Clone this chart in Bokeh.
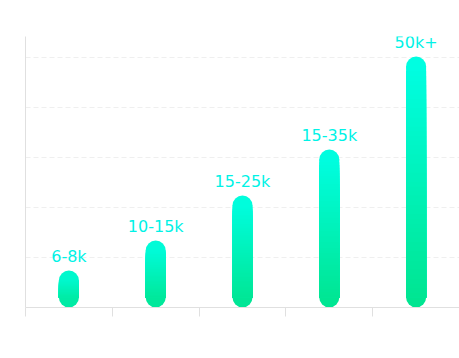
from bokeh.plotting import figure
from bokeh.models import ColumnDataSource, FixedTicker, Range1d
from bokeh.core.properties import value
from bokeh.embed import file_html
from bokeh.resources import INLINE

categories = ["6-8k", "10-15k", "15-25k", "15-35k", "50k+"]
values = [7.4, 13.4, 22.4, 31.6, 50.2]
grid_ticks = [10, 20, 30, 40, 50]

TOP = (0x00, 0xFF, 0xE4)
BOTTOM = (0x00, 0xE4, 0x8E)

W, H = 459, 342
BL, BT, BR, BB = 25, 36, 0, 35
YMAX = 54.2
frame_w = W - BL - BR
frame_h = H - BT - BB
px_x = len(categories) / frame_w
px_y = YMAX / frame_h
bar_px = 20
half_w = bar_px / 2 * px_x
r = bar_px / 2 * px_y


def mix(t):
    c = [round(BOTTOM[i] + (TOP[i] - BOTTOM[i]) * t) for i in range(3)]
    return "#%02x%02x%02x" % tuple(c)


p = figure(width=W, height=H, output_backend="svg", toolbar_location=None,
           x_range=Range1d(0, len(categories)), y_range=Range1d(0, YMAX),
           min_border_left=BL, min_border_top=BT, min_border_right=BR,
           min_border_bottom=BB)
p.outline_line_color = None
p.background_fill_color = "white"

# gradient bars via stacked slices
N = 50
sl_l, sl_r, sl_b, sl_t, sl_c = [], [], [], [], []
cx, cy, cc = [], [], []
for i, v in enumerate(values):
    c = i + 0.5
    y0, y1 = r, v - r
    cx += [c, c]
    cy += [y1, y0]
    cc += [mix(y1 / v), mix(y0 / v)]
    for k in range(N, 0, -1):
        yt = y0 + (y1 - y0) * k / N
        sl_l.append(c - half_w)
        sl_r.append(c + half_w)
        sl_b.append(y0)
        sl_t.append(yt)
        sl_c.append(mix(yt / v))

p.scatter(x=cx, y=cy, size=bar_px, color=cc, line_color=None)
p.quad(left=sl_l, right=sl_r, bottom=sl_b, top=sl_t, fill_color=sl_c, line_color=None)

lab = ColumnDataSource(dict(x=[i + 0.5 for i in range(len(categories))], y=values, t=categories))
p.text(x="x", y="y", text="t", source=lab, y_offset=-14, text_align="center",
       text_baseline="alphabetic", text_color="#00F2E6",
       text_font=value("DejaVu Sans"), text_font_size="16px")

p.xgrid.visible = False
p.ygrid.ticker = FixedTicker(ticks=grid_ticks)
p.ygrid.grid_line_color = "#efefef"
p.ygrid.grid_line_dash = "5 3"

p.xaxis.ticker = FixedTicker(ticks=list(range(len(categories) + 1)))
p.xaxis.axis_line_color = "#e0e0e0"
p.xaxis.major_tick_line_color = "#e0e0e0"
p.xaxis.major_tick_out = 9
p.xaxis.major_tick_in = 0
p.xaxis.minor_tick_line_color = None
p.xaxis.major_label_overrides = {i: "" for i in range(len(categories) + 1)}

p.yaxis.axis_line_color = "#e0e0e0"
p.yaxis.ticker = FixedTicker(ticks=grid_ticks)
p.yaxis.major_tick_line_color = None
p.yaxis.minor_tick_line_color = None
p.yaxis.major_label_overrides = {t: "" for t in grid_ticks}

open("out.html", "w").write(file_html(p, INLINE))
